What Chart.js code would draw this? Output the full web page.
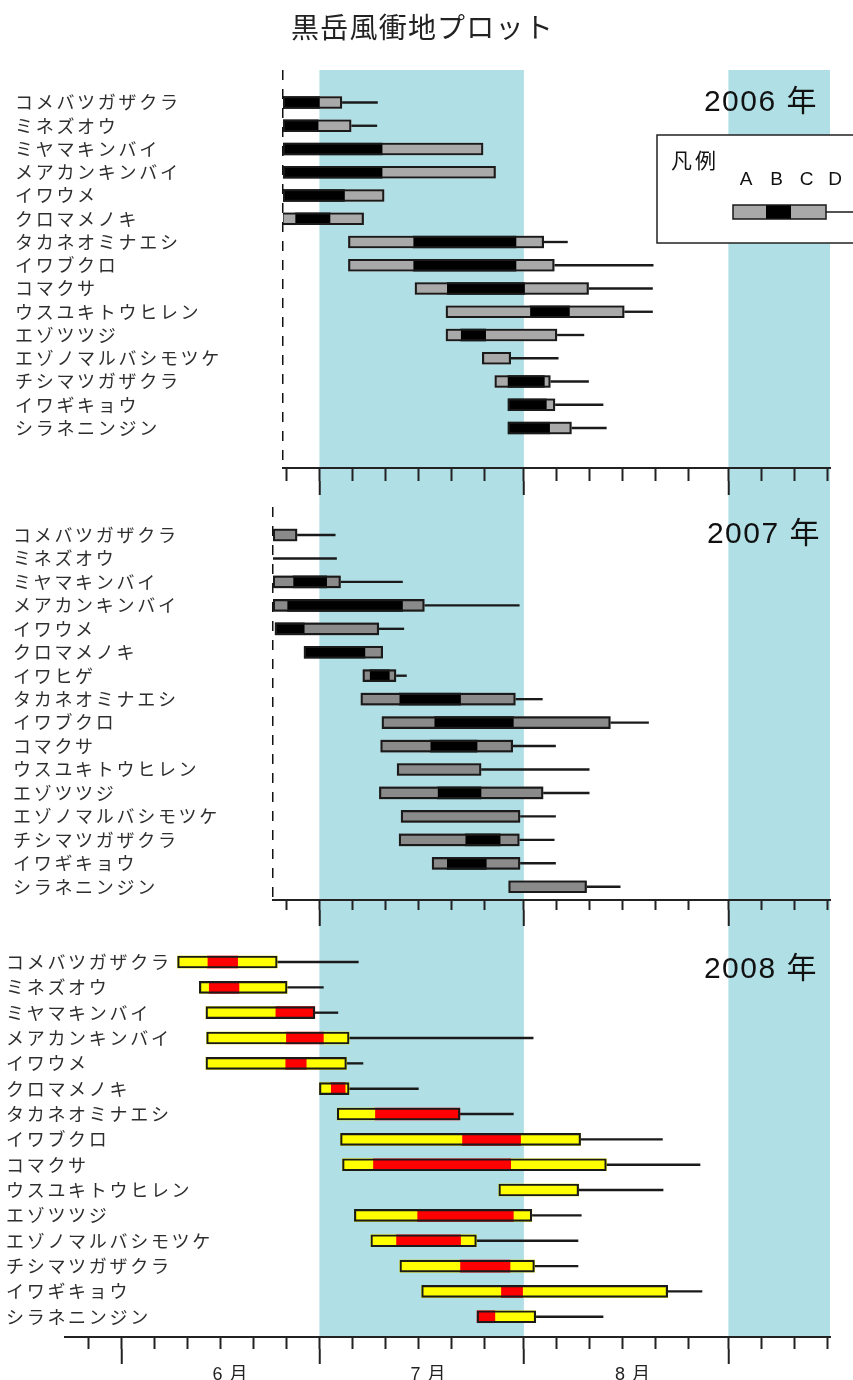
<!DOCTYPE html>
<html lang="ja">
<head>
<meta charset="utf-8">
<title>黒岳風衝地プロット</title>
<script src="https://cdn.jsdelivr.net/npm/chart.js@4.4.1/dist/chart.umd.min.js"></script>
<style>
  html, body { margin: 0; padding: 0; background: #fff; }
  #page { position: relative; width: 853px; height: 1380px; overflow: hidden; }
  .panel { position: absolute; left: 0; width: 853px; }
</style>
</head>
<body>
<div id="page">
  <div class="panel" style="top:0;height:500px"><canvas id="c2006"></canvas></div>
  <div class="panel" style="top:500px;height:430px"><canvas id="c2007"></canvas></div>
  <div class="panel" style="top:930px;height:450px"><canvas id="c2008"></canvas></div>
</div>
<script>
// Day values are counted from 1 June (0 = 6/1, 30 = 7/1, 61 = 8/1, 92 = 9/1).
// Stages per species: A = start, B–C = peak, D = end of box, E = end of whisker line.

const speciesMain = ['コメバツガザクラ', 'ミネズオウ', 'ミヤマキンバイ', 'メアカンキンバイ', 'イワウメ',
  'クロマメノキ', 'タカネオミナエシ', 'イワブクロ', 'コマクサ', 'ウスユキトウヒレン',
  'エゾツツジ', 'エゾノマルバシモツケ', 'チシマツガザクラ', 'イワギキョウ', 'シラネニンジン'];
const species2007 = ['コメバツガザクラ', 'ミネズオウ', 'ミヤマキンバイ', 'メアカンキンバイ', 'イワウメ',
  'クロマメノキ', 'イワヒゲ', 'タカネオミナエシ', 'イワブクロ', 'コマクサ', 'ウスユキトウヒレン',
  'エゾツツジ', 'エゾノマルバシモツケ', 'チシマツガザクラ', 'イワギキョウ', 'シラネニンジン'];

// 2006
const stageA2006 = [24.5, 24.5, 24.5, 24.5, 24.5, 24.3, 34.4, 34.4, 44.5, 49.2, 49.2, 54.7, 56.6, 58.6, 58.6];
const stageB2006 = [24.5, 24.5, 24.5, 24.5, 24.5, 26.3, 44.2, 44.2, 49.3, 61.9, 51.4, 59.0, 58.5, 58.6, 58.6];
const stageC2006 = [30.0, 29.8, 39.5, 39.5, 33.8, 31.6, 59.8, 59.8, 61.1, 67.9, 55.2, 59.0, 64.1, 64.4, 64.9];
const stageD2006 = [33.4, 34.8, 54.8, 56.7, 39.8, 36.7, 64.0, 65.6, 70.8, 76.2, 66.0, 59.0, 65.0, 65.7, 68.2];
const stageE2006 = [38.8, 38.7, null, null, null, null, 67.6, 80.6, 80.5, 80.5, 70.1, 66.2, 70.8, 73.0, 73.5];

// 2007
const stageA2007 = [23.0, 23.0, 23.0, 23.0, 23.3, 27.7, 36.6, 36.3, 39.5, 39.3, 41.8, 39.1, 42.4, 42.1, 47.1, 58.7];
const stageB2007 = [26.6, 23.0, 26.0, 25.1, 23.3, 27.7, 37.6, 42.1, 47.4, 46.8, 54.5, 47.9, 60.4, 52.1, 49.3, 70.5];
const stageC2007 = [26.6, 23.0, 31.1, 42.6, 27.7, 36.9, 40.6, 51.4, 59.4, 53.9, 54.5, 54.5, 60.4, 57.4, 55.3, 70.5];
const stageD2007 = [26.6, 23.0, 33.2, 45.9, 39.0, 39.6, 41.6, 59.7, 74.1, 59.3, 54.5, 63.9, 60.4, 60.3, 60.4, 70.5];
const stageE2007 = [32.4, 32.6, 42.6, 60.3, 42.8, null, 43.2, 63.8, 79.9, 65.8, 70.9, 70.9, 65.8, 65.6, 65.8, 75.6];

// 2008
const stageA2008 = [8.5, 11.8, 12.8, 12.9, 12.8, 30.0, 32.7, 33.2, 33.5, 57.2, 35.3, 37.8, 42.2, 45.5, 53.9];
const stageB2008 = [13.0, 13.2, 23.3, 24.9, 24.8, 31.7, 38.4, 51.6, 38.1, 69.3, 44.8, 41.6, 51.3, 57.5, 53.9];
const stageC2008 = [17.6, 17.8, 29.3, 30.6, 28.0, 33.9, 51.3, 60.5, 59.0, 69.3, 59.4, 51.4, 58.9, 60.8, 56.6];
const stageD2008 = [23.6, 25.1, 29.3, 34.5, 34.1, 34.5, 51.3, 69.6, 73.5, 69.3, 62.2, 53.8, 62.6, 82.8, 62.8];
const stageE2008 = [35.9, 30.6, 32.8, 62.4, 36.6, 45.0, 59.4, 82.0, 87.7, 82.1, 69.7, 69.2, 69.2, 88.0, 73.0];

// Axis ticks: short ticks every 5 days, long ticks and labels at month starts
const tickDays = [-5, 0, 5, 10, 15, 20, 25, 30, 35, 40, 45, 50, 55, 61, 66, 71, 76, 81, 86, 92, 97, 102, 107];
const monthDays = [0, 30, 61, 92];
const monthLabels = ['6 月', '7 月', '8 月', ''];
const shadeRanges = [[30, 61], [92, 123]];   // July and September
const legendStageLabels = ['A', 'B', 'C', 'D'];

const X_MAX = 107.41;
const OUTLINE = '#1a1a1a';
const SHADE = '#b0e0e6';
const CLEAR = 'rgba(0,0,0,0)';
const CJK = "'Noto Sans CJK JP', sans-serif";
const LATIN = "'Liberation Sans', 'Noto Sans CJK JP', sans-serif";

function spans(lo, hi) {
  const out = [];
  lo.forEach((v, i) => {
    const w = hi[i];
    if (v == null || w == null || w <= v) return;
    out.push({ y: i, x: [v, w] });
  });
  return out;
}

// Background month bands, plus text tracking for the axis/title layers
const monthShade = {
  id: 'monthShade',
  beforeDraw(chart, args, o) {
    const { ctx, chartArea: ca, scales: { x } } = chart;
    const top = o.fromCanvasTop ? 0 : ca.top;
    const bottom = o.toCanvasBottom ? chart.height : ca.bottom;
    ctx.save();
    ctx.fillStyle = SHADE;
    shadeRanges.forEach(([s, e]) => {
      const x0 = Math.max(x.getPixelForValue(s), ca.left);
      const x1 = Math.min(x.getPixelForValue(e), ca.right);
      if (x1 > x0) ctx.fillRect(x0, top, x1 - x0, bottom - top);
    });
    ctx.restore();
    ctx.letterSpacing = o.baseTracking || '0px';
  },
  afterDatasetsDraw(chart, args, o) {
    chart.ctx.letterSpacing = o.labelTracking || '0px';
  }
};

// Year caption and the stage legend
const panelDecor = {
  id: 'panelDecor',
  afterDraw(chart, args, o) {
    const { ctx, chartArea: ca } = chart;
    ctx.save();
    if (o.year) {
      ctx.letterSpacing = '1.5px';
      ctx.font = '30px ' + LATIN;
      ctx.fillStyle = '#111';
      ctx.textAlign = 'right';
      ctx.textBaseline = 'alphabetic';
      ctx.fillText(o.year, ca.right - o.yearRight, ca.top + o.yearBaseline);
    }
    if (o.legend) {
      const L = ca.right - 173, T = ca.top + 65;
      ctx.fillStyle = '#fff';
      ctx.fillRect(L, T, 260, 108);
      ctx.strokeStyle = '#222';
      ctx.lineWidth = 1.5;
      ctx.strokeRect(L, T, 260, 108);
      ctx.letterSpacing = '3px';
      ctx.font = '21px ' + CJK;
      ctx.fillStyle = '#111';
      ctx.textAlign = 'left';
      ctx.textBaseline = 'middle';
      ctx.fillText('凡例', L + 14, T + 25);
      ctx.letterSpacing = '0px';
      ctx.font = '19px ' + LATIN;
      ctx.textAlign = 'center';
      ctx.textBaseline = 'alphabetic';
      const lx = [89, 119.5, 149.5, 178];
      legendStageLabels.forEach((s, i) => ctx.fillText(s, L + lx[i], T + 50));
      const gy = T + 70, gh = 14;
      const segs = [[76, 109, '#a9a9a9'], [109, 134, '#000'], [134, 169, '#a9a9a9']];
      segs.forEach(([a, b, c]) => { ctx.fillStyle = c; ctx.fillRect(L + a, gy, b - a, gh); });
      ctx.strokeStyle = OUTLINE;
      ctx.strokeRect(L + 76, gy, 93, gh);
      ctx.beginPath();
      ctx.moveTo(L + 169, gy + gh / 2);
      ctx.lineTo(L + 260, gy + gh / 2);
      ctx.stroke();
    }
    ctx.restore();
  }
};

function buildPanel(id, p) {
  const common = { grouped: false, borderSkipped: false, categoryPercentage: 1, barPercentage: 1, maxBarThickness: 12 };
  const datasets = [
    { ...common, label: 'A–D', data: spans(p.A, p.D), backgroundColor: CLEAR, borderColor: OUTLINE, borderWidth: 1.5, order: 0 },
    { ...common, label: 'A–B', data: spans(p.A, p.B), backgroundColor: p.side, borderWidth: 0, order: 1 },
    { ...common, label: 'B–C', data: spans(p.B, p.C), backgroundColor: p.peak, borderWidth: 0, order: 1 },
    { ...common, label: 'C–D', data: spans(p.C, p.D), backgroundColor: p.side, borderWidth: 0, order: 1 },
    { ...common, label: 'D–E', data: spans(p.D, p.E), backgroundColor: OUTLINE, borderWidth: 0, maxBarThickness: 1.7, order: 2 }
  ];
  // Long ticks at month starts; for the observation panels also a dashed start line at the left edge
  const isStartLine = t => p.dashed && t && t.tick && t.tick.value === p.xMin;
  return new Chart(document.getElementById(id), {
    type: 'bar',
    data: { datasets },
    plugins: [monthShade, panelDecor],
    options: {
      indexAxis: 'y',
      responsive: true,
      maintainAspectRatio: false,
      devicePixelRatio: 1,
      animation: false,
      events: [],
      layout: { padding: p.padding },
      scales: {
        y: {
          type: 'linear', reverse: true, offset: false, min: p.yMin, max: p.yMax,
          afterBuildTicks: s => { s.ticks = p.names.map((_, i) => ({ value: i })); },
          afterFit: s => { s.width = p.yWidth; s.paddingTop = 0; s.paddingBottom = 0; },
          grid: { display: false, drawTicks: false },
          border: { display: false },
          ticks: {
            autoSkip: false, mirror: true, padding: -p.yWidth, z: 1, color: '#2e2e2e',
            font: { family: CJK, size: 18 },
            callback: v => p.names[v]
          }
        },
        x: {
          type: 'linear', position: 'bottom', min: p.xMin, max: X_MAX, weight: 0, offset: false,
          afterBuildTicks: s => { s.ticks = tickDays.filter(d => d >= s.min && d <= s.max).map(value => ({ value })); },
          afterFit: s => { s.height = p.minorLen; s.paddingLeft = 0; s.paddingRight = 0; },
          grid: { drawOnChartArea: false, drawTicks: true, tickLength: p.minorLen, tickWidth: 2, tickColor: '#222' },
          border: { display: true, color: '#222', width: 2 },
          ticks: { display: false }
        },
        x2: {
          type: 'linear', position: 'bottom', min: p.xMin, max: X_MAX, weight: 1, offset: false,
          afterBuildTicks: s => {
            const days = monthDays.filter(d => d >= s.min && d <= s.max);
            if (p.dashed) days.unshift(p.xMin);
            s.ticks = days.map(value => ({ value }));
          },
          afterFit: s => { s.height = p.x2Height; s.paddingLeft = 0; s.paddingRight = 0; },
          grid: {
            drawOnChartArea: true, drawTicks: true, tickLength: p.majorLen - p.minorLen, tickWidth: 2,
            lineWidth: 1.5,
            color: t => isStartLine(t) ? '#111' : CLEAR,
            tickColor: t => isStartLine(t) ? CLEAR : '#222'
          },
          border: { display: false, dash: [10, 9] },
          ticks: {
            display: !!p.monthText, autoSkip: false, maxRotation: 0, labelOffset: 109, padding: 0,
            color: '#222', font: { family: LATIN, size: 18 },
            callback: v => { const k = monthDays.indexOf(v); return k < 0 ? '' : monthLabels[k]; }
          }
        }
      },
      plugins: {
        legend: { display: false },
        tooltip: { enabled: false },
        title: p.title ? {
          display: true, text: p.title, color: '#222',
          font: { family: CJK, size: 28, weight: 'normal' },
          padding: { top: 11, bottom: 25.4 }
        } : { display: false },
        monthShade: {
          fromCanvasTop: p.shadeFromTop, toCanvasBottom: p.shadeToBottom,
          baseTracking: p.baseTracking, labelTracking: '2.7px'
        },
        panelDecor: { year: p.year, yearRight: p.yearRight, yearBaseline: p.yearBaseline, legend: p.legend }
      }
    }
  });
}

buildPanel('c2006', {
  names: speciesMain, A: stageA2006, B: stageB2006, C: stageC2006, D: stageD2006, E: stageE2006,
  side: '#a9a9a9', peak: '#000000',
  xMin: 24.48, yMin: -1.398, yMax: 15.72, yWidth: 268,
  padding: { left: 15, right: 23, top: 0, bottom: 5 },
  minorLen: 13, majorLen: 27, x2Height: 14, dashed: true, monthText: false,
  title: '黒岳風衝地プロット', baseTracking: '1.2px',
  shadeFromTop: false, shadeToBottom: true,
  year: '2006 年', yearRight: 12, yearBaseline: 40.7, legend: true
});

buildPanel('c2007', {
  names: species2007, A: stageA2007, B: stageB2007, C: stageC2007, D: stageD2007, E: stageE2007,
  side: '#8a8a8a', peak: '#000000',
  xMin: 22.97, yMin: -1.194, yMax: 15.565, yWidth: 260,
  padding: { left: 13, right: 23, top: 7, bottom: 4 },
  minorLen: 10, majorLen: 26, x2Height: 16, dashed: true, monthText: false,
  title: null, baseTracking: '0px',
  shadeFromTop: true, shadeToBottom: true,
  year: '2007 年', yearRight: 9, yearBaseline: 36.3, legend: false
});

buildPanel('c2008', {
  names: speciesMain, A: stageA2008, B: stageB2008, C: stageC2008, D: stageD2008, E: stageE2008,
  side: '#ffff00', peak: '#ff0000',
  xMin: -8.57, yMin: -1.066, yMax: 14.80, yWidth: 59,
  padding: { left: 6, right: 23, top: 5, bottom: 0 },
  minorLen: 12, majorLen: 27, x2Height: 31, dashed: false, monthText: true,
  title: null, baseTracking: '1px',
  shadeFromTop: true, shadeToBottom: false,
  year: '2008 年', yearRight: 12, yearBaseline: 43, legend: false
});
</script>
</body>
</html>
